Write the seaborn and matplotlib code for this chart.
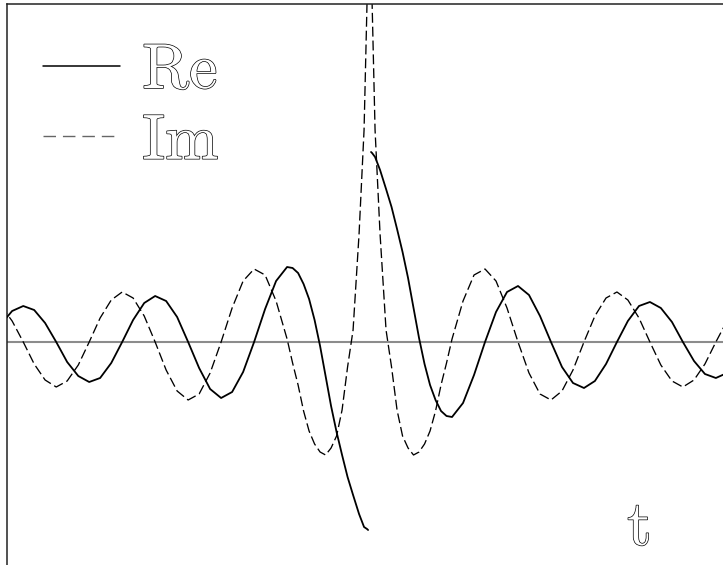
import matplotlib
matplotlib.use("Agg")
import matplotlib.pyplot as plt
import matplotlib.patheffects as pe
from matplotlib.lines import Line2D
import seaborn as sns

# t > 0 branch
t_right = [0.07, 0.12, 0.262, 0.5, 0.785, 1.047, 1.309, 1.571, 1.833, 2.094,
           2.356, 2.618, 2.880, 3.142, 3.403, 3.665, 3.927, 4.451, 4.974, 5.498,
           6.021, 6.545, 7.069, 7.592, 8.116, 8.639, 9.163, 9.687, 10.21, 10.73,
           11.26, 11.78, 12.30, 12.83, 13.35, 13.87, 14.40, 14.92, 15.45, 15.97,
           16.49, 17.02]
re_right = [1.90, 1.89, 1.85, 1.72, 1.53, 1.35, 1.13, 0.90, 0.64, 0.34,
            0.04, -0.22, -0.43, -0.58, -0.69, -0.74, -0.75, -0.61, -0.33, 0.0,
            0.30, 0.50, 0.56, 0.47, 0.26, 0.0, -0.25, -0.41, -0.46, -0.39,
            -0.22, 0.0, 0.21, 0.36, 0.40, 0.34, 0.20, 0.0, -0.19, -0.32,
            -0.36, -0.31]
im_right = [4.6, 3.40, 2.12, 1.08, 0.12, -0.25, -0.68, -0.94, -1.06, -1.13,
            -1.10, -1.02, -0.89, -0.69, -0.43, -0.21, 0.03, 0.41, 0.67, 0.73,
            0.61, 0.34, 0.0, -0.31, -0.52, -0.58, -0.49, -0.28, 0.0, 0.26,
            0.44, 0.50, 0.42, 0.24, 0.0, -0.23, -0.39, -0.45, -0.38, -0.22,
            0.0, 0.21]

# t < 0 branch
t_left = [-17.54, -17.02, -16.49, -15.97, -15.45, -14.92, -14.40, -13.87, -13.35, -12.83,
          -12.30, -11.78, -11.26, -10.73, -10.21, -9.687, -9.163, -8.639, -8.116, -7.592,
          -7.069, -6.545, -6.021, -5.498, -4.974, -4.451, -3.927, -3.665, -3.403, -3.142,
          -2.880, -2.618, -2.356, -2.094, -1.833, -1.571, -1.309, -1.047, -0.785, -0.5,
          -0.262, -0.12, -0.07]
re_left = [0.18, 0.31, 0.36, 0.32, 0.19, 0.0, -0.20, -0.34, -0.40, -0.36,
           -0.21, 0.0, 0.22, 0.39, 0.46, 0.41, 0.25, 0.0, -0.26, -0.47,
           -0.56, -0.50, -0.30, 0.0, 0.33, 0.61, 0.75, 0.74, 0.69, 0.58,
           0.43, 0.22, -0.04, -0.34, -0.64, -0.90, -1.13, -1.35, -1.53, -1.72,
           -1.85, -1.87, -1.88]
im_left = [0.36, 0.21, 0.0, -0.22, -0.38, -0.45, -0.39, -0.23, 0.0, 0.24,
           0.42, 0.50, 0.44, 0.26, 0.0, -0.28, -0.49, -0.58, -0.52, -0.31,
           0.0, 0.34, 0.61, 0.73, 0.67, 0.41, 0.03, -0.21, -0.43, -0.69,
           -0.89, -1.02, -1.10, -1.13, -1.06, -0.94, -0.68, -0.25, 0.12, 1.08,
           2.12, 3.40, 4.6]

labels = ["Re", "Im"]
axis_label = "t"

sns.set_style("white")
plt.rcParams["font.family"] = ["cmr10", "DejaVu Serif"]

fig = plt.figure(figsize=(7.23, 5.65), dpi=100)
ax = fig.add_axes([7.3 / 723, 0, 1 - 7.3 / 723, 1 - 3.8 / 565])

ax.axhline(0, color="#8c8c8c", lw=1.5, zorder=1)

dash = (0, (7.5, 3.0))
for t, re, im in [(t_left, re_left, im_left), (t_right, re_right, im_right)]:
    sns.lineplot(x=t, y=re, ax=ax, color="black", lw=1.3, zorder=3)
    sns.lineplot(x=t, y=im, ax=ax, color="black", lw=0.95, linestyle=dash, zorder=2)

ax.set_xlim(-17.25, 16.83)
ax.set_ylim(-2.23, 3.382)
ax.set_xticks([])
ax.set_yticks([])
for side in ["right", "bottom"]:
    ax.spines[side].set_visible(False)
for side in ["left", "top"]:
    ax.spines[side].set_color("#222222")
    ax.spines[side].set_linewidth(1.1)

outline = [pe.withStroke(linewidth=1.0, foreground="black")]

handles = [Line2D([], [], color="black", lw=1.1),
           Line2D([], [], color="#666666", lw=1.0, linestyle=(0, (9, 5)))]
leg = ax.legend(handles, labels, loc="upper left", bbox_to_anchor=(0.05, 0.93),
                frameon=False, borderpad=0, borderaxespad=0, handlelength=1.2,
                handletextpad=0.35, labelspacing=0.2,
                prop={"family": "cmr10", "size": 46})
for txt in leg.get_texts():
    txt.set_color("white")
    txt.set_path_effects(outline)

ax.text(0.866, 0.036, axis_label, transform=ax.transAxes, fontsize=46,
        family="cmr10", color="white", ha="left", va="baseline",
        path_effects=outline)

fig.savefig("out.png", dpi=100)
